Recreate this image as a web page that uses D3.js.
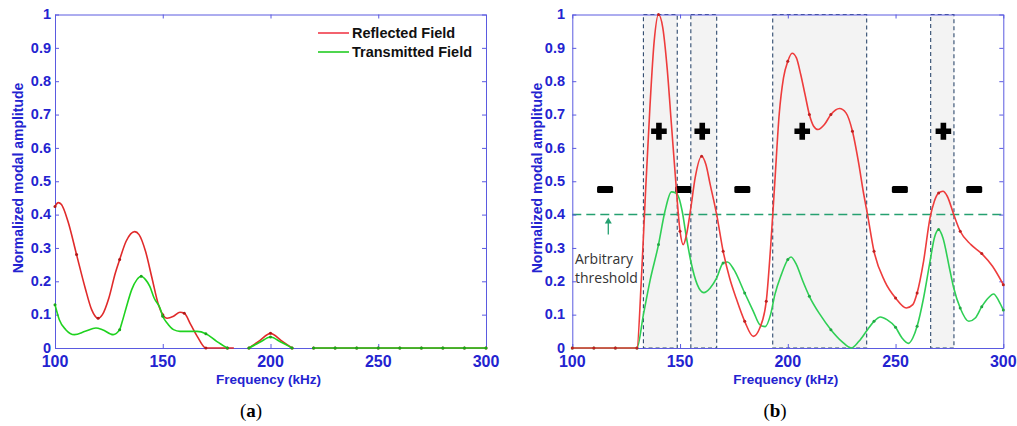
<!DOCTYPE html>
<html>
<head>
<meta charset="utf-8">
<script src="https://cdn.jsdelivr.net/npm/d3@7"></script>
<style>
html,body{margin:0;padding:0;background:#fff;}
svg{display:block;}
</style>
</head>
<body>
<svg id="chart" width="1017" height="426"></svg>
<script>
// ---------- DATA ----------
const yTicks = [0,0.1,0.2,0.3,0.4,0.5,0.6,0.7,0.8,0.9,1];
const yTickLabels = ["0","0.1","0.2","0.3","0.4","0.5","0.6","0.7","0.8","0.9","1"];
const xTicks = [100,150,200,250,300];
const xTickLabels = ["100","150","200","250","300"];
const seriesNames = ["Reflected Field","Transmitted Field"];

// Panel (a) - reflected field
const aRefX = [100,101.5,103,106,110,114,117,120,122,125,128,130,133,137,139,142,145,148,150,152,155,158,160,163,166,170,180,183,186,190,195,200,205,210,215,220,230,240,250,260,270,280,290,300];
const aRefY = [0.424,0.436,0.43,0.38,0.28,0.18,0.115,0.089,0.1,0.15,0.225,0.265,0.32,0.349,0.34,0.29,0.21,0.13,0.1,0.089,0.095,0.107,0.104,0.07,0.035,0,0,0,null,0,0.022,0.044,0.022,0,null,0,0,0,0,0,0,0,0,0];
// Panel (a) - transmitted field
const aTraX = [100,102,105,109,114,119,122,127,130,131,133,135.6,138,140,142,144,146,148.7,150,152,155,158,162,166,170,175,180,185,190,195,200,205,210,215,220,230,240,250,260,270,280,290,300];
const aTraY = [0.13,0.085,0.055,0.04,0.05,0.06,0.055,0.04,0.055,0.075,0.12,0.175,0.205,0.215,0.205,0.185,0.15,0.12,0.095,0.075,0.055,0.05,0.05,0.05,0.043,0.02,0,null,0,0.017,0.033,0.017,0,null,0,0,0,0,0,0,0,0,0];

// Panel (b) - reflected field
const bRefX = [100,110,120,130,132,134,136,138,140,142,144,146,148,150,151.5,153,155,157,160,162,164,167,170,173,176,180,184,187,190,192,194,196,198,200,202,204,206,208,210,212,214,217,220,224,227,230,233,235,237,240,245,250,255,258,260,263,266,268,270,272,274,277,280,285,290,295,300];
const bRefY = [0,0,0,0,0.2,0.47,0.72,0.92,1.0,0.96,0.84,0.67,0.5,0.35,0.31,0.34,0.42,0.51,0.575,0.55,0.49,0.4,0.29,0.21,0.15,0.08,0.035,0.06,0.14,0.3,0.5,0.7,0.81,0.86,0.884,0.87,0.82,0.76,0.7,0.665,0.655,0.67,0.7,0.718,0.705,0.65,0.55,0.47,0.4,0.29,0.2,0.15,0.12,0.13,0.165,0.26,0.39,0.44,0.465,0.47,0.455,0.4,0.35,0.31,0.283,0.245,0.19];
// Panel (b) - transmitted field
const bTraX = [100,110,120,130,133,136,140,143,146,148,149.5,151,153,155,158,161,164,167,170,172,175,180,184,187,189.5,192,194,197,200,201.5,204,207,210,215,220,225,229.5,233,237,240,243,246,250,253,256,258,260,263,266,268,270,272,275,277,280,284,287,290,293,295.5,298,300];
const bTraY = [0,0,0,0,0.1,0.2,0.31,0.41,0.468,0.465,0.45,0.41,0.33,0.26,0.19,0.166,0.18,0.21,0.255,0.258,0.235,0.165,0.11,0.07,0.064,0.1,0.16,0.22,0.265,0.273,0.25,0.2,0.155,0.1,0.055,0.02,0,0.02,0.055,0.08,0.093,0.085,0.062,0.03,0.014,0.03,0.065,0.15,0.26,0.33,0.355,0.33,0.24,0.18,0.12,0.08,0.09,0.124,0.15,0.162,0.14,0.114];

// Panel (b) annotations
const bandStart = [133,155,193,266.3];
const bandEnd   = [148.7,167,236.6,277.1];
const plusX  = [140.2,160.3,206.7,272.2];
const plusY  = 0.65;
const minusX = [115.2,151.5,178.9,252,286.5];
const minusY = 0.475;
const threshold = 0.4;
const arrowX = 116.7;
const thresholdText = ["Arbitrary","threshold"];
const captions = ["a","b"];

// ---------- DRAW ----------
const svg = d3.select("#chart");
const axisColor = "#5a5ae0";
const labelColor = "#2323d0";

function panel(opts){
  const x = d3.scaleLinear().domain([100,300]).range([opts.x0, opts.x1]);
  const y = d3.scaleLinear().domain([0,1]).range([348, 14.5]);
  const g = svg.append("g");

  g.append("rect").attr("x",x(100)).attr("y",y(1)).attr("width",x(300)-x(100)).attr("height",y(0)-y(1)).attr("fill","#fff");

  if(opts.extra) opts.extra(g, x, y);

  const tl = 4;
  const axB = d3.axisBottom(x).tickValues(xTicks).tickFormat("").tickSizeInner(-tl).tickSizeOuter(0);
  const axT = d3.axisTop(x).tickValues(xTicks).tickFormat("").tickSizeInner(-tl).tickSizeOuter(0);
  const axL = d3.axisLeft(y).tickValues(yTicks).tickFormat("").tickSizeInner(-tl).tickSizeOuter(0);
  const axR = d3.axisRight(y).tickValues(yTicks).tickFormat("").tickSizeInner(-tl).tickSizeOuter(0);
  [[axB,`translate(0,${y(0)})`],[axT,`translate(0,${y(1)})`],[axL,`translate(${x(100)},0)`],[axR,`translate(${x(300)},0)`]].forEach(([a,t])=>{
    const ag = g.append("g").attr("transform",t).call(a);
    ag.selectAll("path,line").attr("stroke",axisColor).attr("stroke-width",1);
  });

  const line = d3.line().defined(d=>d[1]!==null).x(d=>x(d[0])).y(d=>y(d[1])).curve(d3.curveMonotoneX);
  opts.series.forEach(s=>{
    const pts = s.xs.map((v,i)=>[v,s.ys[i]]);
    g.append("path").datum(pts).attr("d",line).attr("fill","none").attr("stroke",s.color).attr("stroke-width",1.6);
    g.selectAll(null).data(pts.filter(p=>p[1]!==null && p[0]%10===0)).enter().append("circle")
      .attr("cx",d=>x(d[0])).attr("cy",d=>y(d[1])).attr("r",1.5).attr("fill",s.marker);
  });

  g.selectAll(null).data(yTicks).enter().append("text")
    .attr("x",opts.yLabX).attr("y",d=>y(d)).attr("dy","0.33em").attr("text-anchor","end")
    .attr("font-family","Liberation Sans, Arial, sans-serif").attr("font-weight","bold").attr("font-size","14.5px")
    .attr("fill",labelColor).text((d,i)=>yTickLabels[i]);
  g.selectAll(null).data(xTicks).enter().append("text")
    .attr("x",d=>x(d)).attr("y",367).attr("text-anchor","middle")
    .attr("font-family","Liberation Sans, Arial, sans-serif").attr("font-weight","bold").attr("font-size","16px")
    .attr("fill",labelColor).text((d,i)=>xTickLabels[i]);

  g.append("text").attr("x",(x(100)+x(300))/2 - 2).attr("y",384).attr("text-anchor","middle")
    .attr("font-family","Liberation Sans, Arial, sans-serif").attr("font-weight","bold").attr("font-size","13.5px")
    .attr("fill",labelColor).text("Frequency (kHz)");
  g.append("text").attr("transform",`translate(${opts.yTitleX},178) rotate(-90)`).attr("text-anchor","middle").attr("dy","0.35em")
    .attr("font-family","Liberation Sans, Arial, sans-serif").attr("font-weight","bold").attr("font-size","14px")
    .attr("fill",labelColor).text("Normalized modal amplitude");

  const cap = g.append("text").attr("x",opts.capX).attr("y",417).attr("text-anchor","middle")
    .attr("font-family","Liberation Serif, Times New Roman, serif").attr("font-size","19px").attr("fill","#000");
  cap.append("tspan").text("(");
  cap.append("tspan").attr("font-weight","bold").text(opts.caption);
  cap.append("tspan").text(")");
  return {x,y,g};
}

// Panel (a)
const pa = panel({
  x0:55, x1:486, yLabX:51, yTitleX:18.5, capX:251, caption:captions[0],
  series:[
    {xs:aRefX, ys:aRefY, color:"#e02a2a", marker:"#b01818"},
    {xs:aTraX, ys:aTraY, color:"#1fd21f", marker:"#18a818"}
  ]
});
const legY = [33,52];
const legColors = ["#f03a4a","#22cc22"];
seriesNames.forEach((n,i)=>{
  pa.g.append("line").attr("x1",318).attr("x2",349).attr("y1",legY[i]).attr("y2",legY[i]).attr("stroke",legColors[i]).attr("stroke-width",1.6);
  pa.g.append("text").attr("x",352).attr("y",legY[i]).attr("dy","0.36em")
    .attr("font-family","Liberation Sans, Arial, sans-serif").attr("font-weight","bold").attr("font-size","14.5px")
    .attr("fill","#111").text(n);
});

// Panel (b)
panel({
  x0:572.3, x1:1003.3, yLabX:565, yTitleX:537, capX:775, caption:captions[1],
  series:[
    {xs:bTraX, ys:bTraY, color:"#2fcf55", marker:"#23a845"},
    {xs:bRefX, ys:bRefY, color:"#ee3c3c", marker:"#c02020"}
  ],
  extra:(g,x,y)=>{
    bandStart.forEach((s,i)=>{
      g.append("rect").attr("x",x(s)).attr("y",y(1)).attr("width",x(bandEnd[i])-x(s)).attr("height",y(0)-y(1))
        .attr("fill","#f3f3f3").attr("stroke","#2f4a6e").attr("stroke-width",1.1).attr("stroke-dasharray","4,3");
    });
    g.append("line").attr("x1",x(100)).attr("x2",x(300)).attr("y1",y(threshold)).attr("y2",y(threshold))
      .attr("stroke","#25a070").attr("stroke-width",1.5).attr("stroke-dasharray","9,5");
    g.append("line").attr("x1",x(arrowX)).attr("x2",x(arrowX)).attr("y1",y(threshold)+20).attr("y2",y(threshold)+6)
      .attr("stroke","#25a070").attr("stroke-width",1.3);
    g.append("path").attr("d",`M${x(arrowX)-3.5},${y(threshold)+9} L${x(arrowX)},${y(threshold)+3} L${x(arrowX)+3.5},${y(threshold)+9} Z`)
      .attr("fill","#25a070");
    thresholdText.forEach((t,i)=>{
      g.append("text").attr("x",575).attr("y",264+i*19).attr("font-family","Open Sans, Liberation Sans, sans-serif")
        .attr("font-size","14px").attr("fill","#333").text(t);
    });
    plusX.forEach(px=>{
      const cx=x(px), cy=y(plusY);
      g.append("path").attr("d",`M${cx-2.8},${cy-8.5} h5.6 v5.7 h5 v5.6 h-5 v5.7 h-5.6 v-5.7 h-5 v-5.6 h5 Z`).attr("fill","#000");
    });
    minusX.forEach(mx=>{
      g.append("rect").attr("x",x(mx)-8).attr("y",y(minusY)-3.5).attr("width",16).attr("height",7).attr("rx",1.5).attr("fill","#000");
    });
  }
});
</script>
</body>
</html>
